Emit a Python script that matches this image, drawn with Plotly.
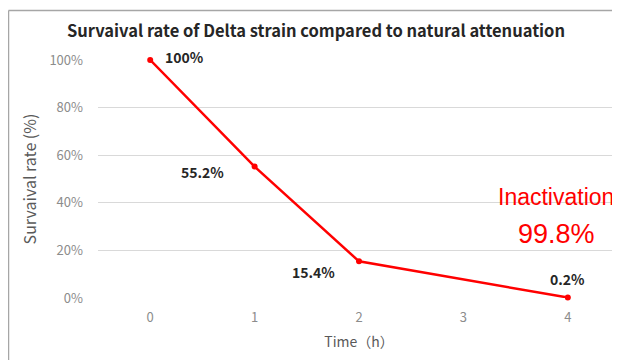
import plotly.graph_objects as go

times = [0, 1, 2, 3, 4]
time_labels = ["0", "1", "2", "3", "4"]
point_times = [0, 1, 2, 4]
survival = [1.00, 0.552, 0.154, 0.002]
survival_labels = ["100%", "55.2%", "15.4%", "0.2%"]
label_offsets = [(34, 3), (-52, -5), (-46, -11), (0, 19)]
y_ticks = [0, 0.2, 0.4, 0.6, 0.8, 1.0]
y_tick_labels = ["0%", "20%", "40%", "60%", "80%", "100%"]

# page has an 8px body margin; work in page pixel coordinates
OFF = 8
W, H = 620 - OFF, 360 - OFF
L, R = 98 - OFF, 0
T = 60 - OFF
B = H - (298 - OFF)
pw, ph = W - L - R, H - T - B

def px_x(px):
    return (px - OFF - L) / pw

def px_y(py):
    return (H - B - (py - OFF)) / ph

fig = go.Figure()
fig.add_trace(go.Scatter(
    x=point_times, y=survival, mode="lines+markers",
    line=dict(color="#FF0000", width=2.5),
    marker=dict(color="#FF0000", size=6),
    cliponaxis=False, hoverinfo="skip", showlegend=False,
))

anns = []
for x, y, lab, (dx, dy) in zip(point_times, survival, survival_labels, label_offsets):
    anns.append(dict(x=x, y=y, xref="x", yref="y", text=lab, showarrow=False,
                     xshift=dx, yshift=dy, xanchor="center", yanchor="middle",
                     font=dict(family="Noto Sans CJK JP", size=14, color="#262626", weight="bold")))
anns.append(dict(x=px_x(556), y=px_y(197), xref="paper", yref="paper", text="Inactivation",
                 showarrow=False, xanchor="center", yanchor="middle",
                 font=dict(family="Liberation Sans, Arial", size=23, color="#FF0000")))
anns.append(dict(x=px_x(556), y=px_y(234), xref="paper", yref="paper", text="99.8%",
                 showarrow=False, xanchor="center", yanchor="middle",
                 font=dict(family="Liberation Sans, Arial", size=27, color="#FF0000")))
anns.append(dict(x=px_x(316), y=px_y(30), xref="paper", yref="paper",
                 text="Survaival rate of Delta strain compared to natural attenuation",
                 showarrow=False, xanchor="center", yanchor="middle",
                 font=dict(family="Noto Sans CJK JP", size=16.5, color="#262626", weight="bold")))

shapes = [
    dict(type="line", xref="paper", yref="paper", x0=px_x(8.5), x1=px_x(8.5), y0=px_y(10.5), y1=px_y(370),
         line=dict(color="#A6A6A6", width=1.5)),
    dict(type="line", xref="paper", yref="paper", x0=px_x(8.5), x1=px_x(630), y0=px_y(10.5), y1=px_y(10.5),
         line=dict(color="#A6A6A6", width=1.5)),
]

fig.update_layout(
    width=W, height=H, margin=dict(l=L, r=R, t=T, b=B, autoexpand=False),
    paper_bgcolor="white", plot_bgcolor="white",
    annotations=anns, shapes=shapes,
    xaxis=dict(range=[-0.5, 4.5], tickvals=times, ticktext=time_labels, showgrid=False,
               zeroline=False, showline=False, ticks="", ticklabelstandoff=10,
               tickfont=dict(family="Noto Sans CJK JP", size=13, color="#8C8C8C"),
               title=dict(text="Time（h）", standoff=12,
                          font=dict(family="Noto Sans CJK JP", size=14, color="#595959"))),
    yaxis=dict(range=[0, 1], tickvals=y_ticks, ticktext=y_tick_labels, showgrid=True,
               gridcolor="#D9D9D9", gridwidth=1, zeroline=False, showline=False, ticks="",
               ticklabelstandoff=14,
               tickfont=dict(family="Noto Sans CJK JP", size=13, color="#8C8C8C"),
               title=dict(text="Survaival rate (%)", standoff=8,
                          font=dict(family="Noto Sans CJK JP", size=16, color="#595959"))),
)

fig.write_html("out.html")
